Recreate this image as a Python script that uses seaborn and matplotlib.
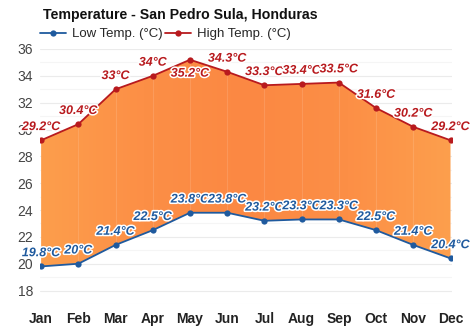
import numpy as np
import pandas as pd
import matplotlib
matplotlib.use("Agg")
import matplotlib.pyplot as plt
import matplotlib.patheffects as pe
from matplotlib.colors import LinearSegmentedColormap
import seaborn as sns

months = ["Jan", "Feb", "Mar", "Apr", "May", "Jun",
          "Jul", "Aug", "Sep", "Oct", "Nov", "Dec"]
high_temp = [29.2, 30.4, 33.0, 34.0, 35.2, 34.3, 33.3, 33.4, 33.5, 31.6, 30.2, 29.2]
low_temp = [19.8, 20.0, 21.4, 22.5, 23.8, 23.8, 23.2, 23.3, 23.3, 22.5, 21.4, 20.4]
y_ticks = [18, 20, 22, 24, 26, 28, 30, 32, 34, 36]

HIGH_COLOR = "#b81a1e"
LOW_COLOR = "#1f5a9e"

sns.set_theme(style="white")
plt.rcParams["font.family"] = ["Liberation Sans", "DejaVu Sans"]

df = pd.DataFrame({"x": np.arange(len(months)), "month": months,
                   "high": high_temp, "low": low_temp})

fig = plt.figure(figsize=(4.74, 3.31), dpi=100)
ax = fig.add_axes([40 / 474, 1 - 304 / 331, 412 / 474, 255 / 331])

# grid: faint every degree, slightly stronger every 2 degrees
for v in np.arange(17, 36.01, 1):
    ax.axhline(v, color="#ebebeb" if v % 2 == 0 else "#f5f5f5", lw=0.8, zorder=0)

# orange band between low and high, shaded horizontally
cmap = LinearSegmentedColormap.from_list(
    "band", ["#fd9e4c", "#fc8f46", "#fb8843", "#fc8f46", "#fd9f4d"])
grad = np.linspace(0, 1, 256).reshape(1, -1)
img = ax.imshow(grad, cmap=cmap, aspect="auto",
                extent=[0, 11, 17, 36], zorder=1, interpolation="bicubic")
band = ax.fill_between(df["x"], df["low"], df["high"], color="none", lw=0)
clip = band.get_paths()[0]
img.set_clip_path(clip, transform=ax.transData)

# faint month separators inside the band
for i in range(1, 11):
    ax.plot([i, i], [low_temp[i], high_temp[i]], color="white", alpha=0.12, lw=0.8, zorder=2)

sns.lineplot(data=df, x="x", y="low", ax=ax, color=LOW_COLOR, lw=1.3,
             marker="o", markersize=4.5, markeredgewidth=0,
             label="Low Temp. (°C)", zorder=3)
sns.lineplot(data=df, x="x", y="high", ax=ax, color=HIGH_COLOR, lw=1.3,
             marker="o", markersize=4.5, markeredgewidth=0,
             label="High Temp. (°C)", zorder=3)

ax.set_xlim(-0.03, 11.04)
ax.set_ylim(17, 36)

outline = [pe.withStroke(linewidth=2.2, foreground="white")]

def fmt(v):
    return f"{v:g}°C"

for i, v in enumerate(high_temp):
    below = v >= 35
    ax.annotate(fmt(v), (i, v), xytext=(0, -10 if below else 9.5),
                textcoords="offset points", ha="center", va="center",
                fontsize=9, fontweight="bold", fontstyle="italic",
                color=HIGH_COLOR, path_effects=outline, zorder=5)
for i, v in enumerate(low_temp):
    ax.annotate(fmt(v), (i, v), xytext=(0, 9.5),
                textcoords="offset points", ha="center", va="center",
                fontsize=9, fontweight="bold", fontstyle="italic",
                color=LOW_COLOR, path_effects=outline, zorder=5)

ax.set_xticks(df["x"])
ax.set_xticklabels(months, fontsize=10, fontweight="bold", color="#222222")
ax.set_yticks(y_ticks)
ax.set_yticklabels([str(t) for t in y_ticks], fontsize=10, color="#444444")
ax.tick_params(axis="x", length=0, pad=6)
ax.tick_params(axis="y", length=0, pad=5)
ax.set_xlabel("")
ax.set_ylabel("")
for s in ax.spines.values():
    s.set_visible(False)

ax.legend(loc="center left", bbox_to_anchor=(0.0, 1.058), ncol=2, frameon=False,
          fontsize=9.5, handlelength=2.0, columnspacing=0.2, handletextpad=0.4,
          borderaxespad=0, borderpad=0)

fig.text(43 / 474, 1 - 15 / 331, "Temperature - San Pedro Sula, Honduras",
         fontsize=10.2, fontweight="bold", ha="left", va="center", color="#111111")

fig.savefig("out.png", dpi=100)
